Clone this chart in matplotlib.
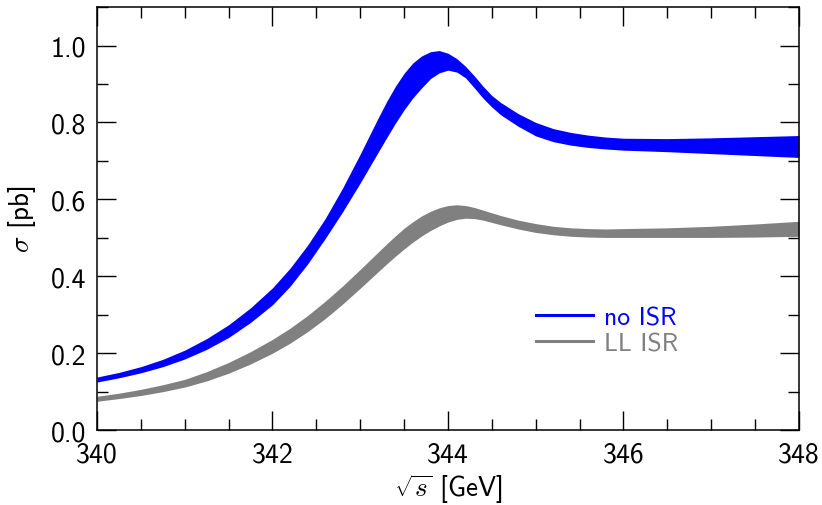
import matplotlib
matplotlib.use("Agg")
import matplotlib.pyplot as plt
from matplotlib.lines import Line2D
from matplotlib.ticker import MultipleLocator

# sqrt(s) grid in GeV
sqrt_s = [340.00, 340.25, 340.50, 340.75, 341.00, 341.25, 341.50, 341.75, 342.00,
          342.20, 342.40, 342.60, 342.80, 343.00, 343.10, 343.20, 343.30, 343.40,
          343.50, 343.60, 343.70, 343.80, 343.90, 344.00, 344.10, 344.20, 344.30,
          344.40, 344.50, 344.60, 344.80, 345.00, 345.20, 345.40, 345.60, 345.80,
          346.00, 346.50, 347.00, 347.50, 348.00]

# no ISR band (pb)
noisr_hi = [0.138, 0.150, 0.165, 0.184, 0.208, 0.238, 0.274, 0.318, 0.370,
            0.421, 0.481, 0.550, 0.630, 0.718, 0.764, 0.810, 0.854, 0.894,
            0.928, 0.955, 0.973, 0.984, 0.987, 0.980, 0.966, 0.946, 0.921,
            0.894, 0.870, 0.852, 0.823, 0.800, 0.784, 0.774, 0.767, 0.762,
            0.759, 0.758, 0.760, 0.763, 0.766]
noisr_lo = [0.125, 0.136, 0.149, 0.165, 0.185, 0.210, 0.241, 0.280, 0.326,
            0.374, 0.432, 0.498, 0.568, 0.643, 0.682, 0.721, 0.760, 0.798,
            0.833, 0.864, 0.890, 0.914, 0.929, 0.936, 0.931, 0.916, 0.890,
            0.863, 0.840, 0.820, 0.790, 0.765, 0.750, 0.741, 0.735, 0.731,
            0.728, 0.724, 0.719, 0.714, 0.709]

# LL ISR band (pb)
llisr_hi = [0.088, 0.096, 0.106, 0.118, 0.132, 0.152, 0.176, 0.204, 0.236,
            0.265, 0.298, 0.335, 0.375, 0.418, 0.440, 0.462, 0.484, 0.505,
            0.525, 0.542, 0.557, 0.569, 0.578, 0.584, 0.586, 0.584, 0.579,
            0.572, 0.565, 0.558, 0.546, 0.537, 0.530, 0.526, 0.524, 0.523,
            0.524, 0.526, 0.530, 0.536, 0.543]
llisr_lo = [0.075, 0.082, 0.090, 0.100, 0.112, 0.128, 0.148, 0.172, 0.200,
            0.226, 0.256, 0.290, 0.328, 0.369, 0.390, 0.411, 0.432, 0.452,
            0.471, 0.489, 0.505, 0.519, 0.531, 0.541, 0.548, 0.551, 0.550,
            0.546, 0.540, 0.534, 0.523, 0.514, 0.508, 0.504, 0.502, 0.501,
            0.501, 0.501, 0.501, 0.502, 0.504]

labels = ["no ISR", "LL ISR"]
colors = ["#0000ff", "#808080"]

plt.rcParams['font.family'] = ['cmss10', 'DejaVu Sans']
plt.rcParams['mathtext.fontset'] = 'cm'
plt.rcParams['axes.unicode_minus'] = False

fig = plt.figure(figsize=(8.22, 5.06), dpi=100)
ax = fig.add_axes([0.118, 0.148, 0.854, 0.836])

ax.fill_between(sqrt_s, noisr_lo, noisr_hi, color=colors[0], lw=0)
ax.fill_between(sqrt_s, llisr_lo, llisr_hi, color=colors[1], lw=0)

ax.set_xlim(340, 348)
ax.set_ylim(0, 1.1)
ax.xaxis.set_major_locator(MultipleLocator(2))
ax.xaxis.set_minor_locator(MultipleLocator(0.5))
ax.yaxis.set_major_locator(MultipleLocator(0.2))
ax.yaxis.set_minor_locator(MultipleLocator(0.1))
ax.tick_params(which='both', direction='in', top=True, right=True,
               labelsize=20, pad=8)
ax.tick_params(which='major', length=14, width=1)
ax.tick_params(which='minor', length=8, width=1)
ax.yaxis.set_major_formatter(plt.FuncFormatter(lambda v, p: f"{v:.1f}"))
for sp in ax.spines.values():
    sp.set_linewidth(1.1)

ax.set_xlabel(r"$\sqrt{s}$ [GeV]", fontsize=19.5, labelpad=4)
ax.set_ylabel(r"$\sigma$ [pb]", fontsize=19.5, labelpad=9)

handles = [Line2D([], [], color=c, lw=2.2) for c in colors]
ax.legend(handles, labels, loc='center left', bbox_to_anchor=(0.593, 0.235),
          frameon=False, fontsize=18.5, handlelength=2.2, handletextpad=0.45,
          labelspacing=0.12, labelcolor=colors)

fig.savefig("out.png", dpi=100)
